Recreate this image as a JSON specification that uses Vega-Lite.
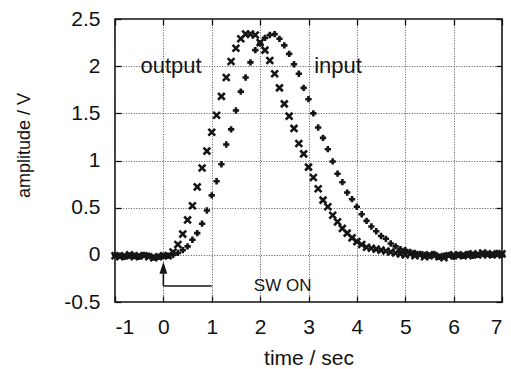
{
  "$schema": "https://vega.github.io/schema/vega-lite/v6.json",
  "width": 387,
  "height": 283,
  "autosize": "none",
  "padding": {"left": 115, "top": 19, "right": 9, "bottom": 67},
  "background": "white",
  "config": {
    "font": "Liberation Sans",
    "view": {"stroke": "#111", "strokeWidth": 1.6},
    "axis": {
      "labelFont": "Liberation Sans",
      "titleFont": "Liberation Sans",
      "labelColor": "#111",
      "titleColor": "#111",
      "titleFontWeight": "normal",
      "domain": false,
      "tickColor": "#111",
      "tickWidth": 1.3,
      "gridColor": "#555",
      "gridDash": [1, 1.6],
      "gridWidth": 1,
      "gridOpacity": 1
    }
  },
  "datasets": {
    "signals": [
      {"t": -1.0, "v": -0.01, "s": "output"}, {"t": -0.9, "v": -0.02, "s": "output"}, {"t": -0.8, "v": -0.01, "s": "output"}, {"t": -0.7, "v": 0.0, "s": "output"}, {"t": -0.6, "v": -0.02, "s": "output"}, {"t": -0.5, "v": -0.01, "s": "output"}, {"t": -0.4, "v": -0.01, "s": "output"}, {"t": -0.3, "v": -0.02, "s": "output"}, {"t": -0.2, "v": -0.03, "s": "output"}, {"t": -0.1, "v": -0.02, "s": "output"},
      {"t": 0.0, "v": -0.01, "s": "output"}, {"t": 0.1, "v": -0.01, "s": "output"}, {"t": 0.2, "v": 0.03, "s": "output"}, {"t": 0.3, "v": 0.11, "s": "output"}, {"t": 0.4, "v": 0.22, "s": "output"}, {"t": 0.5, "v": 0.37, "s": "output"}, {"t": 0.6, "v": 0.52, "s": "output"}, {"t": 0.7, "v": 0.72, "s": "output"}, {"t": 0.8, "v": 0.92, "s": "output"}, {"t": 0.9, "v": 1.10, "s": "output"},
      {"t": 1.0, "v": 1.30, "s": "output"}, {"t": 1.1, "v": 1.48, "s": "output"}, {"t": 1.2, "v": 1.68, "s": "output"}, {"t": 1.3, "v": 1.88, "s": "output"}, {"t": 1.4, "v": 2.05, "s": "output"}, {"t": 1.5, "v": 2.19, "s": "output"}, {"t": 1.6, "v": 2.29, "s": "output"}, {"t": 1.7, "v": 2.34, "s": "output"}, {"t": 1.8, "v": 2.34, "s": "output"}, {"t": 1.9, "v": 2.33, "s": "output"},
      {"t": 2.0, "v": 2.25, "s": "output"}, {"t": 2.1, "v": 2.17, "s": "output"}, {"t": 2.2, "v": 2.06, "s": "output"}, {"t": 2.3, "v": 1.92, "s": "output"}, {"t": 2.4, "v": 1.77, "s": "output"}, {"t": 2.5, "v": 1.60, "s": "output"}, {"t": 2.6, "v": 1.47, "s": "output"}, {"t": 2.7, "v": 1.34, "s": "output"}, {"t": 2.8, "v": 1.18, "s": "output"}, {"t": 2.9, "v": 1.07, "s": "output"},
      {"t": 3.0, "v": 0.93, "s": "output"}, {"t": 3.1, "v": 0.82, "s": "output"}, {"t": 3.2, "v": 0.70, "s": "output"}, {"t": 3.3, "v": 0.58, "s": "output"}, {"t": 3.4, "v": 0.51, "s": "output"}, {"t": 3.5, "v": 0.42, "s": "output"}, {"t": 3.6, "v": 0.35, "s": "output"}, {"t": 3.7, "v": 0.28, "s": "output"}, {"t": 3.8, "v": 0.23, "s": "output"}, {"t": 3.9, "v": 0.18, "s": "output"},
      {"t": 4.0, "v": 0.14, "s": "output"}, {"t": 4.1, "v": 0.11, "s": "output"}, {"t": 4.2, "v": 0.08, "s": "output"}, {"t": 4.3, "v": 0.07, "s": "output"}, {"t": 4.4, "v": 0.06, "s": "output"}, {"t": 4.5, "v": 0.05, "s": "output"}, {"t": 4.6, "v": 0.04, "s": "output"}, {"t": 4.7, "v": 0.03, "s": "output"}, {"t": 4.8, "v": 0.02, "s": "output"}, {"t": 4.9, "v": 0.01, "s": "output"},
      {"t": 5.0, "v": 0.0, "s": "output"}, {"t": 5.1, "v": 0.01, "s": "output"}, {"t": 5.2, "v": -0.01, "s": "output"}, {"t": 5.3, "v": 0.0, "s": "output"}, {"t": 5.4, "v": -0.02, "s": "output"}, {"t": 5.5, "v": 0.0, "s": "output"}, {"t": 5.6, "v": -0.01, "s": "output"}, {"t": 5.7, "v": -0.02, "s": "output"}, {"t": 5.8, "v": -0.03, "s": "output"}, {"t": 5.9, "v": -0.01, "s": "output"},
      {"t": 6.0, "v": 0.0, "s": "output"}, {"t": 6.1, "v": -0.01, "s": "output"}, {"t": 6.2, "v": 0.0, "s": "output"}, {"t": 6.3, "v": -0.01, "s": "output"}, {"t": 6.4, "v": 0.01, "s": "output"}, {"t": 6.5, "v": 0.0, "s": "output"}, {"t": 6.6, "v": 0.02, "s": "output"}, {"t": 6.7, "v": 0.0, "s": "output"}, {"t": 6.8, "v": 0.01, "s": "output"}, {"t": 6.9, "v": 0.0, "s": "output"}, {"t": 7.0, "v": 0.01, "s": "output"},

      {"t": -1.0, "v": 0.0, "s": "input"}, {"t": -0.9, "v": -0.01, "s": "input"}, {"t": -0.8, "v": -0.02, "s": "input"}, {"t": -0.7, "v": -0.01, "s": "input"}, {"t": -0.6, "v": -0.01, "s": "input"}, {"t": -0.5, "v": -0.02, "s": "input"}, {"t": -0.4, "v": 0.0, "s": "input"}, {"t": -0.3, "v": -0.01, "s": "input"}, {"t": -0.2, "v": -0.03, "s": "input"}, {"t": -0.1, "v": -0.02, "s": "input"},
      {"t": 0.0, "v": -0.01, "s": "input"}, {"t": 0.1, "v": -0.01, "s": "input"}, {"t": 0.2, "v": 0.0, "s": "input"}, {"t": 0.3, "v": 0.02, "s": "input"}, {"t": 0.4, "v": 0.05, "s": "input"}, {"t": 0.5, "v": 0.09, "s": "input"}, {"t": 0.6, "v": 0.16, "s": "input"}, {"t": 0.7, "v": 0.23, "s": "input"}, {"t": 0.8, "v": 0.33, "s": "input"}, {"t": 0.9, "v": 0.47, "s": "input"},
      {"t": 1.0, "v": 0.63, "s": "input"}, {"t": 1.1, "v": 0.78, "s": "input"}, {"t": 1.2, "v": 0.96, "s": "input"}, {"t": 1.3, "v": 1.17, "s": "input"}, {"t": 1.4, "v": 1.33, "s": "input"}, {"t": 1.5, "v": 1.53, "s": "input"}, {"t": 1.6, "v": 1.73, "s": "input"}, {"t": 1.7, "v": 1.88, "s": "input"}, {"t": 1.8, "v": 2.04, "s": "input"}, {"t": 1.9, "v": 2.17, "s": "input"},
      {"t": 2.0, "v": 2.24, "s": "input"}, {"t": 2.1, "v": 2.30, "s": "input"}, {"t": 2.2, "v": 2.33, "s": "input"}, {"t": 2.3, "v": 2.34, "s": "input"}, {"t": 2.4, "v": 2.29, "s": "input"}, {"t": 2.5, "v": 2.22, "s": "input"}, {"t": 2.6, "v": 2.13, "s": "input"}, {"t": 2.7, "v": 2.02, "s": "input"}, {"t": 2.8, "v": 1.92, "s": "input"}, {"t": 2.9, "v": 1.77, "s": "input"},
      {"t": 3.0, "v": 1.65, "s": "input"}, {"t": 3.1, "v": 1.50, "s": "input"}, {"t": 3.2, "v": 1.35, "s": "input"}, {"t": 3.3, "v": 1.24, "s": "input"}, {"t": 3.4, "v": 1.12, "s": "input"}, {"t": 3.5, "v": 0.99, "s": "input"}, {"t": 3.6, "v": 0.86, "s": "input"}, {"t": 3.7, "v": 0.77, "s": "input"}, {"t": 3.8, "v": 0.66, "s": "input"}, {"t": 3.9, "v": 0.59, "s": "input"},
      {"t": 4.0, "v": 0.51, "s": "input"}, {"t": 4.1, "v": 0.43, "s": "input"}, {"t": 4.2, "v": 0.36, "s": "input"}, {"t": 4.3, "v": 0.30, "s": "input"}, {"t": 4.4, "v": 0.25, "s": "input"}, {"t": 4.5, "v": 0.20, "s": "input"}, {"t": 4.6, "v": 0.17, "s": "input"}, {"t": 4.7, "v": 0.12, "s": "input"}, {"t": 4.8, "v": 0.09, "s": "input"}, {"t": 4.9, "v": 0.06, "s": "input"},
      {"t": 5.0, "v": 0.05, "s": "input"}, {"t": 5.1, "v": 0.03, "s": "input"}, {"t": 5.2, "v": 0.02, "s": "input"}, {"t": 5.3, "v": 0.01, "s": "input"}, {"t": 5.4, "v": 0.0, "s": "input"}, {"t": 5.5, "v": -0.01, "s": "input"}, {"t": 5.6, "v": 0.01, "s": "input"}, {"t": 5.7, "v": -0.02, "s": "input"}, {"t": 5.8, "v": -0.01, "s": "input"}, {"t": 5.9, "v": 0.0, "s": "input"},
      {"t": 6.0, "v": -0.02, "s": "input"}, {"t": 6.1, "v": 0.0, "s": "input"}, {"t": 6.2, "v": -0.01, "s": "input"}, {"t": 6.3, "v": 0.01, "s": "input"}, {"t": 6.4, "v": -0.01, "s": "input"}, {"t": 6.5, "v": 0.0, "s": "input"}, {"t": 6.6, "v": 0.01, "s": "input"}, {"t": 6.7, "v": 0.01, "s": "input"}, {"t": 6.8, "v": 0.0, "s": "input"}, {"t": 6.9, "v": 0.02, "s": "input"}, {"t": 7.0, "v": 0.0, "s": "input"}
    ],
    "segments": [
      {"x": 0, "y": -0.33, "x2": 0, "y2": -0.2},
      {"x": 0, "y": -0.33, "x2": 1, "y2": -0.33}
    ],
    "arrowhead": [{"x": 0, "y": -0.138}],
    "seriesLabels": [
      {"x": 0.16, "y": 1.925, "label": "output"},
      {"x": 3.61, "y": 1.925, "label": "input"}
    ],
    "note": [{"x": 1.87, "y": -0.33, "label": "SW ON"}]
  },
  "layer": [
    {
      "data": {"name": "signals"},
      "mark": {"type": "point", "filled": false, "strokeWidth": 2.6, "color": "#151515", "opacity": 1},
      "encoding": {
        "x": {
          "field": "t", "type": "quantitative",
          "scale": {"domain": [-1, 7], "nice": false, "zero": false},
          "axis": {
            "values": [-1, 0, 1, 2, 3, 4, 5, 6, 7],
            "labelExpr": "'' + datum.value",
            "labelFontSize": 21, "labelPadding": 20, "tickSize": -6,
            "grid": true,
            "title": "time / sec", "titleFontSize": 21,
            "titleX": 193.5, "titleY": 62, "titleBaseline": "alphabetic", "titleAnchor": null
          }
        },
        "y": {
          "field": "v", "type": "quantitative",
          "scale": {"domain": [-0.5, 2.5], "nice": false, "zero": false},
          "axis": {
            "values": [-0.5, 0, 0.5, 1, 1.5, 2, 2.5],
            "labelExpr": "'' + datum.value",
            "labelFontSize": 21, "labelPadding": 21, "tickSize": -6,
            "grid": true,
            "title": "amplitude / V", "titleFontSize": 18,
            "titleX": -91, "titleY": 126, "titleAngle": 270, "titleAlign": "center", "titleBaseline": "middle"
          }
        },
        "shape": {
          "field": "s", "type": "nominal",
          "scale": {"domain": ["output", "input"], "range": ["M-1,-1L1,1M-1,1L1,-1", "M-1,0L1,0M0,-1L0,1"]},
          "legend": null
        },
        "size": {
          "field": "s", "type": "nominal",
          "scale": {"domain": ["output", "input"], "range": [46, 40]},
          "legend": null
        }
      }
    },
    {
      "data": {"name": "segments"},
      "mark": {"type": "rule", "color": "#151515", "strokeWidth": 1.6},
      "encoding": {
        "x": {
          "field": "x", "type": "quantitative",
          "scale": {"domain": [-1, 7], "nice": false, "zero": false},
          "axis": {"orient": "top", "values": [-1, 0, 1, 2, 3, 4, 5, 6, 7], "labels": false, "tickSize": -6, "grid": false, "title": null}
        },
        "y": {
          "field": "y", "type": "quantitative",
          "scale": {"domain": [-0.5, 2.5], "nice": false, "zero": false},
          "axis": {"orient": "right", "values": [-0.5, 0, 0.5, 1, 1.5, 2, 2.5], "labels": false, "tickSize": -6, "grid": false, "title": null}
        },
        "x2": {"field": "x2"},
        "y2": {"field": "y2"}
      }
    },
    {
      "data": {"name": "arrowhead"},
      "mark": {"type": "point", "shape": "M0,-1L0.65,1L-0.65,1Z", "filled": true, "color": "#151515", "size": 144, "opacity": 1},
      "encoding": {
        "x": {"field": "x", "type": "quantitative", "axis": null},
        "y": {"field": "y", "type": "quantitative", "axis": null}
      }
    },
    {
      "data": {"name": "seriesLabels"},
      "mark": {"type": "text", "fontSize": 22, "align": "center", "baseline": "alphabetic", "color": "#151515", "font": "Liberation Sans"},
      "encoding": {
        "x": {"field": "x", "type": "quantitative", "axis": null},
        "y": {"field": "y", "type": "quantitative", "axis": null},
        "text": {"field": "label"}
      }
    },
    {
      "data": {"name": "note"},
      "mark": {"type": "text", "fontSize": 17, "align": "left", "baseline": "middle", "color": "#151515", "font": "Liberation Sans"},
      "encoding": {
        "x": {"field": "x", "type": "quantitative", "axis": null},
        "y": {"field": "y", "type": "quantitative", "axis": null},
        "text": {"field": "label"}
      }
    }
  ],
  "resolve": {"axis": {"x": "independent", "y": "independent"}}
}
